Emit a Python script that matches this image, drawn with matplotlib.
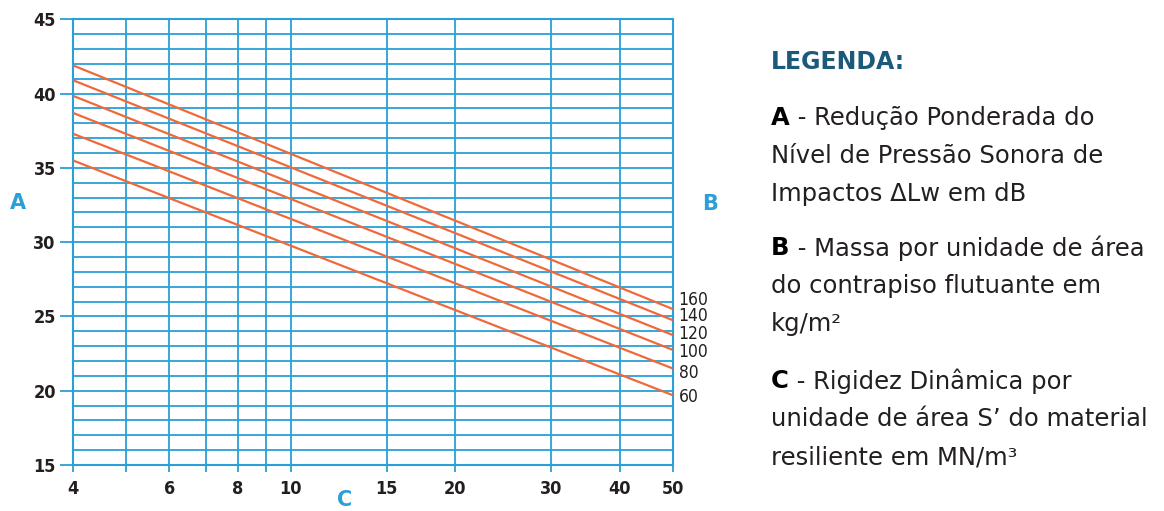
import numpy as np
import matplotlib
matplotlib.use("Agg")
import matplotlib.pyplot as plt
from matplotlib.ticker import FixedLocator, NullFormatter

# Rigidez dinamica S' (MN/m3) at the two ends of each curve
stiffness_ends = [4, 50]

# Mass per unit area of the floating screed (kg/m2) and reduction in dB
masses = [160, 140, 120, 100, 80, 60]
reduction_at_4 = [41.9, 40.9, 39.85, 38.7, 37.3, 35.5]
reduction_at_50 = [25.5, 24.75, 23.75, 22.75, 21.5, 19.7]

x_grid = [4, 5, 6, 7, 8, 9, 10, 15, 20, 30, 40, 50]
x_labels = ["4", "", "6", "", "8", "", "10", "15", "20", "30", "40", "50"]
y_major = [15, 20, 25, 30, 35, 40, 45]

BLUE = "#2a9fd8"
ORANGE = "#f0693a"
DARK = "#231f20"

plt.rcParams['font.family'] = ['DejaVu Sans']

fig = plt.figure(figsize=(11.64, 5.11), dpi=100)
ax = fig.add_axes([73 / 1164, 1 - 465 / 511, (672.7 - 73) / 1164, (465 - 19.3) / 511])

ax.set_xscale("log")
ax.set_xlim(4, 50)
ax.set_ylim(15, 45)

for m, y0, y1 in zip(masses, reduction_at_4, reduction_at_50):
    ax.plot(stiffness_ends, [y0, y1], color=ORANGE, lw=1.6, zorder=3, solid_capstyle="butt")

# curve labels just outside the right edge
nudges = [0.6, 0.25, 0.05, -0.15, -0.3, -0.1]
for m, y1, dy in zip(masses, reduction_at_50, nudges):
    ax.text(1.01, y1 + dy, str(m), transform=ax.get_yaxis_transform(),
            ha="left", va="center", fontsize=12.5, color=DARK,
            fontstretch="condensed", clip_on=False)

ax.xaxis.set_major_locator(FixedLocator(x_grid))
ax.xaxis.set_minor_formatter(NullFormatter())
ax.xaxis.set_minor_locator(FixedLocator([]))
ax.set_xticklabels(x_labels)
ax.yaxis.set_major_locator(FixedLocator(y_major))
ax.yaxis.set_minor_locator(FixedLocator(np.arange(15, 46, 1)))

ax.grid(True, which="both", color=BLUE, lw=1.3)
ax.set_axisbelow(True)
for s in ax.spines.values():
    s.set_color(BLUE)
    s.set_linewidth(1.5)

ax.tick_params(axis="y", which="major", length=9.4, width=1.3, color=BLUE, pad=3,
               labelsize=13, labelcolor=DARK)
ax.tick_params(axis="y", which="minor", length=0)
ax.tick_params(axis="x", which="major", length=5, width=1.3, color=BLUE, pad=6,
               labelsize=13, labelcolor=DARK)
for lab in ax.get_xticklabels() + ax.get_yticklabels():
    lab.set_fontweight("bold")
    lab.set_fontstretch("condensed")

fig.text(18 / 1164, 1 - 203 / 511, "A", color=BLUE, fontsize=15, fontweight="bold",
         ha="center", va="center")
fig.text(710 / 1164, 1 - 204 / 511, "B", color=BLUE, fontsize=15, fontweight="bold",
         ha="center", va="center")
fig.text(345 / 1164, 1 - 500 / 511, "C", color=BLUE, fontsize=15, fontweight="bold",
         ha="center", va="center")

# legend block on the right
lx = 771 / 1164
fs = 17.5
fig.text(lx, 1 - 62 / 511, "LEGENDA:", color="#1b5a7a", fontsize=17,
         fontweight="bold", va="center")

legend_items = [
    ("A", ["Redução Ponderada do", "Nível de Pressão Sonora de", "Impactos ΔLw em dB"], 118),
    ("B", ["Massa por unidade de área", "do contrapiso flutuante em", "kg/m²"], 248),
    ("C", ["Rigidez Dinâmica por", "unidade de área S’ do material", "resiliente em MN/m³"], 381),
]
line_gap = 38
for key, lines, ytop in legend_items:
    t = fig.text(lx, 1 - ytop / 511, key, color="black", fontsize=fs,
                 fontweight="bold", va="center")
    fig.canvas.draw()
    bb = t.get_window_extent()
    x_after = bb.x1 / fig.bbox.width
    fig.text(x_after, 1 - ytop / 511, " - " + lines[0], color=DARK, fontsize=fs, va="center")
    for i, txt in enumerate(lines[1:], start=1):
        fig.text(lx, 1 - (ytop + i * line_gap) / 511, txt, color=DARK, fontsize=fs,
                 va="center")

fig.savefig("out.png", dpi=100)
